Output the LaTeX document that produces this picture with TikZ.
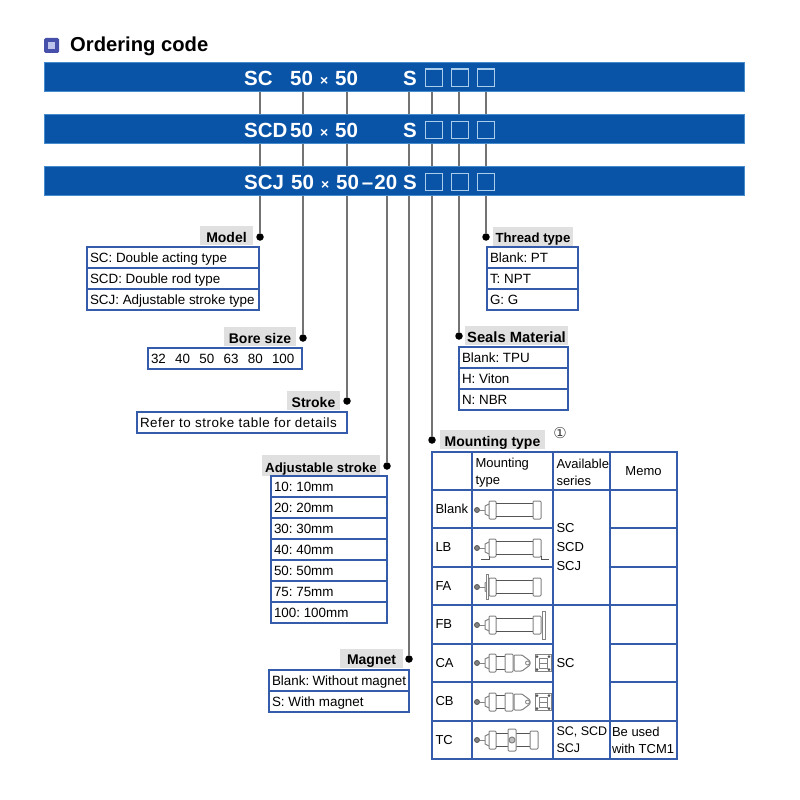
\documentclass[tikz,border=0pt]{standalone}
\usepackage{fontspec}
\setmainfont{Liberation Sans}
\newfontfamily\symbolfont{DejaVu Sans}
\usetikzlibrary{backgrounds}
\definecolor{barblue}{RGB}{10,84,168}
\definecolor{baredge}{RGB}{70,140,205}
\definecolor{slotblue}{RGB}{170,205,236}
\definecolor{tableblue}{RGB}{52,92,170}
\definecolor{taggray}{RGB}{224,224,224}
\definecolor{leadgray}{RGB}{115,115,115}
\definecolor{iconfill}{RGB}{70,80,170}
\definecolor{iconcore}{RGB}{190,195,235}
\definecolor{cylline}{RGB}{130,130,130}
\definecolor{cyldark}{RGB}{85,85,85}

\begin{document}
\frenchspacing
\begin{tikzpicture}[
  x=1pt, y=-1pt,
  font=\fontsize{13.4}{15}\selectfont,
  codebar/.style={
    rectangle, draw=baredge, line width=0.6pt, fill=barblue, anchor=north west,
    minimum width=700pt, minimum height=29pt, inner sep=0pt, outer sep=0pt
  },
  codetext/.style={
    font=\fontsize{20.5}{22}\selectfont\bfseries, text=white, anchor=west, inner sep=0pt
  },
  slotbox/.style={
    rectangle, draw=slotblue, line width=1pt, minimum width=17pt, minimum height=17pt,
    inner sep=0pt
  },
  enddot/.style={circle, fill=black, minimum size=7.5pt, inner sep=0pt},
  leader/.style={draw=leadgray, line width=1.7pt},
  tagbox/.style={
    rectangle, fill=taggray, font=\fontsize{14}{15}\selectfont\bfseries,
    minimum height=19pt, inner sep=0pt, text height=13pt, text depth=0pt
  },
  optrow/.style={
    rectangle, draw=tableblue, line width=1.4pt, anchor=north west, align=flush left,
    text width=#1, inner xsep=3pt, inner ysep=0pt, outer sep=0pt, minimum height=21pt,
    text height=10pt, text depth=0pt
  },
  gridcell/.style={
    rectangle, draw=tableblue, line width=1.4pt, anchor=north west, align=flush left,
    font=\fontsize{13}{17}\selectfont, inner xsep=3.5pt, inner ysep=0pt, outer sep=0pt,
    text width=#1
  },
  pics/rodend/.style={code={
    \draw[cyldark, line width=0.8pt, fill=cylline] (0,0) circle (2.5);
    \draw[cylline, line width=1pt] (2.5,0) -- (8,0);
    \draw[cylline, line width=1pt, fill=white] (12,-6) -- (8,-4) -- (8,4) -- (12,6);
  }},
  pics/cylbody/.style={code={
    \draw[cylline, line width=1pt, fill=white, rounded corners=1pt] (12,-9) rectangle (19,9);
    \draw[cyldark, line width=1.6pt] (19,-6.5) -- (#1,-6.5) (19,6.5) -- (#1,6.5);
    \draw[cylline, line width=1pt, fill=white, rounded corners=1pt] (#1,-9) rectangle (#1+8,9);
  }},
  pics/clevisend/.style={code={
    \draw[cylline, line width=1pt, fill=white, rounded corners=1pt] (45,-8) -- (37,-8) -- (37,8) -- (45,8) -- (53,2) -- (53,-2) -- cycle;
    \draw[cylline, line width=0.8pt, fill=white] (50.5,0) circle (2);
    \draw[cylline, line width=1pt, fill=white] (58,-8.5) rectangle (74,8.5);
    \draw[cylline, line width=1pt] (62,-5) rectangle (70,5) (62,0) -- (70,0);
    \foreach \cx/\cy in {60/-6.5, 72/-6.5, 60/6.5, 72/6.5} {
      \fill[cyldark] (\cx,\cy) circle (1.5);
    }
  }}
]
\useasboundingbox (0,0) rectangle (800,800);

% =====================================================================
% Title
% =====================================================================
\node[rectangle, rounded corners=1.5pt, fill=iconfill, minimum size=15pt, inner sep=0pt] (titleIcon) at (51.5,45.5) {};
\node[rectangle, fill=iconcore, minimum size=7pt, inner sep=0pt] (titleCore) at (titleIcon) {};
\node[font=\fontsize{20.2}{22}\selectfont\bfseries, anchor=west, inner sep=0pt] (titleText) at (70,46) {Ordering code};

% =====================================================================
% Code bars
% =====================================================================
\node[codebar] (barSC) at (44,62) {};
\node[codebar] (barSCD) at (44,114) {};
\node[codebar] (barSCJ) at (44,166) {};

\node[codetext] (codeSC) at (244,78) {SC};
\node[codetext] (sizeSC) at (290,78) {50\hspace{7pt}{\fontsize{14}{14}\selectfont ×}\hspace{7pt}50};
\node[codetext] (magSC) at (403,78) {S};

\node[codetext] (codeSCD) at (244,130) {SCD};
\node[codetext] (sizeSCD) at (290,130) {50\hspace{7pt}{\fontsize{14}{14}\selectfont ×}\hspace{7pt}50};
\node[codetext] (magSCD) at (403,130) {S};

\node[codetext] (codeSCJ) at (244,182) {SCJ};
\node[codetext] (sizeSCJ) at (291,182) {50\hspace{7pt}{\fontsize{14}{14}\selectfont ×}\hspace{7pt}50\hspace{3pt}–\hspace{1pt}20};
\node[codetext] (magSCJ) at (403,182) {S};

% -- empty slots --
\foreach \row/\ymid in {SC/77.5, SCD/129.5, SCJ/182} {
  \node[slotbox] (slotA\row) at (433.5,\ymid) {};
  \node[slotbox] (slotB\row) at (459.5,\ymid) {};
  \node[slotbox] (slotC\row) at (485.5,\ymid) {};
}

% =====================================================================
% Leader ends
% =====================================================================
\node[enddot] (dotModel) at (260,237) {};
\node[enddot] (dotBore) at (303,338) {};
\node[enddot] (dotStroke) at (347,401) {};
\node[enddot] (dotAdjust) at (387,466) {};
\node[enddot] (dotMagnet) at (409,659) {};
\node[enddot] (dotMount) at (432,440) {};
\node[enddot] (dotSeals) at (459,336) {};
\node[enddot] (dotThread) at (486,237) {};

\begin{pgfonlayer}{background}
  \draw[leader] (barSC.south -| dotModel) -- (dotModel);
  \draw[leader] (barSC.south -| dotBore) -- (dotBore);
  \draw[leader] (barSC.south -| dotStroke) -- (dotStroke);
  \draw[leader] (barSCJ.south -| dotAdjust) -- (dotAdjust);
  \draw[leader] (barSC.south -| dotMagnet) -- (dotMagnet);
  \draw[leader] (barSC.south -| dotMount) -- (dotMount);
  \draw[leader] (barSC.south -| dotSeals) -- (dotSeals);
  \draw[leader] (barSC.south -| dotThread) -- (dotThread);
\end{pgfonlayer}

% =====================================================================
% Option tables
% =====================================================================

% -- Model --
\node[tagbox, minimum width=53pt] (tagModel) at (226.5,235.5) {Model};
\node[optrow=166pt] (modelA) at (87,247) {SC: Double acting type};
\node[optrow=166pt] (modelB) at (87,268) {SCD: Double rod type};
\node[optrow=166pt] (modelC) at (87,289) {SCJ: Adjustable stroke type};

% -- Bore size --
\node[tagbox, minimum width=72pt] (tagBore) at (260,336.5) {Bore size};
\node[optrow=148pt] (boreRow) at (148,348) {32\hspace{9.3pt}40\hspace{9.3pt}50\hspace{9.3pt}63\hspace{9.3pt}80\hspace{9.3pt}100};

% -- Stroke --
\node[tagbox, minimum width=53pt] (tagStroke) at (313.5,400.5) {Stroke};
\node[optrow=204pt] (strokeRow) at (137,412) {\addfontfeature{LetterSpace=4}Refer to stroke table for details};

% -- Adjustable stroke --
\node[tagbox, minimum width=118pt, minimum height=21pt, font=\fontsize{13.3}{15}\selectfont\bfseries] (tagAdjust) at (321,465.5) {Adjustable stroke};
\foreach \txt [count=\n from 0] in {10: 10mm, 20: 20mm, 30: 30mm, 40: 40mm, 50: 50mm, 75: 75mm, 100: 100mm} {
  \node[optrow=110pt] (adjust\n) at (271,{476+21*\n}) {\txt};
}

% -- Magnet --
\node[tagbox, minimum width=63pt] (tagMagnet) at (371.5,658) {Magnet};
\node[optrow=134pt] (magnetA) at (269,670) {Blank: Without magnet};
\node[optrow=134pt] (magnetB) at (269,691) {S: With magnet};

% -- Thread type --
\node[tagbox, minimum width=80pt, font=\fontsize{13.2}{15}\selectfont\bfseries] (tagThread) at (533,236) {Thread type};
\node[optrow=85pt] (threadA) at (487,247) {Blank: PT};
\node[optrow=85pt] (threadB) at (487,268) {T: NPT};
\node[optrow=85pt] (threadC) at (487,289) {G: G};

% -- Seals Material --
\node[tagbox, minimum width=103pt, font=\fontsize{14.8}{15}\selectfont\bfseries] (tagSeals) at (516.5,335.5) {Seals Material};
\node[optrow=103pt] (sealsA) at (459,347) {Blank: TPU};
\node[optrow=103pt] (sealsB) at (459,368) {H: Viton};
\node[optrow=103pt] (sealsC) at (459,389) {N: NBR};

% =====================================================================
% Mounting table
% =====================================================================
\node[tagbox, minimum width=105pt] (tagMount) at (492.5,439.5) {Mounting type};
\node[font=\symbolfont\fontsize{15}{15}\selectfont, text=black!75, inner sep=0pt] (noteMark) at (560,433) {①};

% -- header --
\node[gridcell=33pt, minimum height=38pt] (headCode) at (432,452) {};
\node[gridcell=74pt, minimum height=38pt] (headType) at (472,452) {\rule{0pt}{12.5pt}Mounting\\type};
\node[gridcell=50pt, minimum height=38pt] (headSeries) at (553,452) {\rule{0pt}{12.5pt}\mbox{Available}\\series};
\node[gridcell=60pt, minimum height=38pt, align=center] (headMemo) at (610,452) {Memo};

% -- rows --
\foreach \code/\ytop/\hgt in {Blank/490/38, LB/528/39, FA/567/38, FB/605/39, CA/644/38, CB/682/39, TC/721/38} {
  \node[gridcell=33pt, minimum height=\hgt pt] (code\code) at (432,\ytop) {\code};
  \node[gridcell=74pt, minimum height=\hgt pt] (icon\code) at (472,\ytop) {};
}
\foreach \code/\ytop/\hgt in {Blank/490/38, LB/528/39, FA/567/38, FB/605/39, CA/644/38, CB/682/39} {
  \node[gridcell=60pt, minimum height=\hgt pt] (memo\code) at (610,\ytop) {};
}
\node[gridcell=50pt, minimum height=115pt, font=\fontsize{13}{19}\selectfont] (seriesA) at (553,490) {SC\\SCD\\SCJ};
\node[gridcell=50pt, minimum height=116pt] (seriesB) at (553,605) {SC};
\node[gridcell=50pt, minimum height=38pt, font=\fontsize{12.5}{17}\selectfont] (seriesC) at (553,721) {\mbox{SC, SCD}\\SCJ};
\node[gridcell=63pt, minimum height=38pt, inner xsep=2pt] (memoTC) at (610,721) {Be used\\with TCM1};

% -- cylinder sketches --
\pic at (477,510) {rodend};
\pic at (477,510) {cylbody=56};

\pic at (477,548) {rodend};
\pic at (477,548) {cylbody=56};
\draw[cyldark, line width=1pt] (481,559.5) -- (489,559.5) -- (489,556);
\draw[cyldark, line width=1pt] (541,556) -- (541,559.5) -- (549,559.5);

\pic at (477,587) {rodend};
\pic at (477,587) {cylbody=56};
\draw[cylline, line width=1pt, fill=white] (486,574.5) rectangle (488.5,599.5);

\pic at (477,625) {rodend};
\pic at (477,625) {cylbody=56};
\draw[cylline, line width=1pt, fill=white] (542,611.5) rectangle (545,639.5);

\pic at (477,663) {rodend};
\pic at (477,663) {cylbody=28};
\pic at (477,663) {clevisend};

\pic at (477,702) {rodend};
\pic at (477,702) {cylbody=28};
\pic at (477,702) {clevisend};

\pic at (477,740) {rodend};
\pic at (477,740) {cylbody=53};
\draw[cylline, line width=1pt, fill=white, rounded corners=1pt] (508,729) rectangle (516,751);
\draw[cylline, line width=1pt, fill=black!25] (512,740) circle (3);

\end{tikzpicture}
\end{document}
